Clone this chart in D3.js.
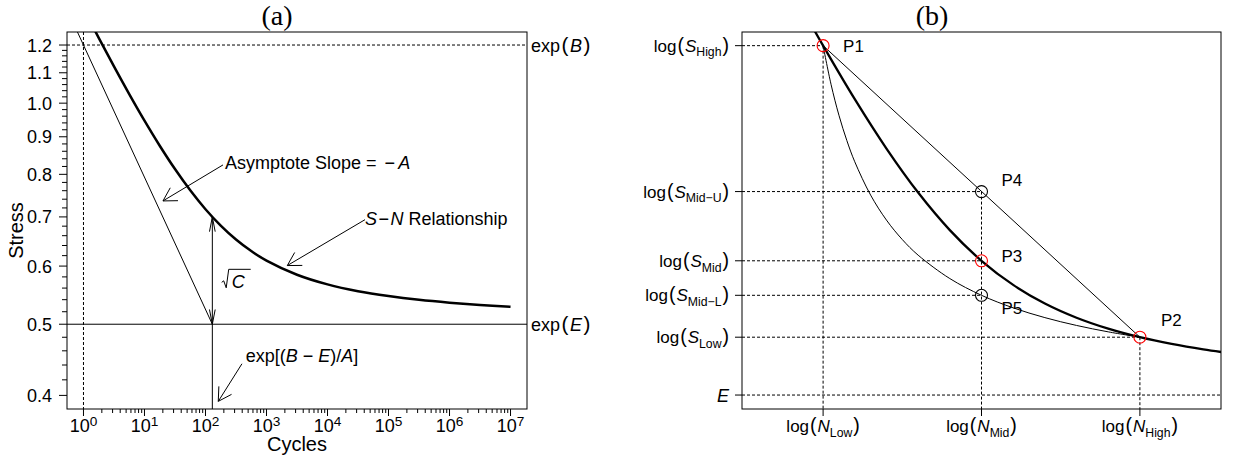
<!DOCTYPE html>
<html><head><meta charset="utf-8">
<script src="https://cdn.jsdelivr.net/npm/d3@7"></script>
<style>
body{margin:0;background:#fff}
svg{display:block}
text{font-family:"Liberation Sans",Arial,Helvetica,sans-serif;fill:#000}
</style>
</head><body>
<svg id="chart" width="1233" height="463"></svg>
<script>
// ---------------- DATA: panel (a) ----------------
const cyclesA = [1, 1.778, 3.162, 5.623, 10, 17.78, 31.62, 56.23, 100, 177.8, 316.2, 562.3, 1000, 3162, 1e4, 31623, 1e5, 316228, 1e6, 3162278, 1e7];
const stressA = [1.3454, 1.2274, 1.1222, 1.0289, 0.9467, 0.8751, 0.8133, 0.7609, 0.7171, 0.6812, 0.6521, 0.6289, 0.6104, 0.5839, 0.5665, 0.5545, 0.5461, 0.5397, 0.5349, 0.5311, 0.5280];
const asymCycles = [0.6, 129.5];
const asymStress = [1.3155, 0.5];
const expBValue = 1.2;
const expEValue = 0.5;
const nStar = 129.5;
const sStar = 0.7;
const stressTicks = [0.4, 0.5, 0.6, 0.7, 0.8, 0.9, 1.0, 1.1, 1.2];
const stressTickLabels = ["0.4", "0.5", "0.6", "0.7", "0.8", "0.9", "1.0", "1.1", "1.2"];
const cycleTickExps = [0, 1, 2, 3, 4, 5, 6, 7];

// ---------------- DATA: panel (b) ----------------
const thickLogN = [0.9, 1.0, 1.2, 1.4, 1.6, 1.8, 2.0, 2.2, 2.4, 2.6, 2.8, 3.0, 3.2, 3.4, 3.6];
const thickLogS = [3.784, 3.503, 2.966, 2.471, 2.030, 1.6536, 1.3461, 1.1042, 0.9179, 0.7754, 0.6657, 0.5799, 0.5122, 0.4575, 0.4128];
const lowerLogN = [1.0, 1.05, 1.1, 1.15, 1.2, 1.3, 1.4, 1.5, 1.6, 1.8, 2.0, 2.2, 2.4, 2.6, 2.8, 3.0];
const lowerLogS = [3.503, 3.1157, 2.8052, 2.5509, 2.3387, 2.0048, 1.7541, 1.5589, 1.4025, 1.1679, 1.0001, 0.8742, 0.7762, 0.6977, 0.6335, 0.5800];
const pointNames = ["P1", "P2", "P3", "P4", "P5"];
const pointLogN = [1, 3, 2, 2, 2];
const pointLogS = [3.503, 0.58, 1.346, 2.04, 1.0];
const pointColors = ["#ff0000", "#ff0000", "#ff0000", "#000000", "#000000"];
const nTickValues = [1, 2, 3];
const nTickSubs = ["Low", "Mid", "High"];
const sTickValues = [3.503, 2.04, 1.346, 1.0, 0.58];
const sTickSubs = ["High", "Mid\u2212U", "Mid", "Mid\u2212L", "Low"];
const eValue = 0;

// ---------------- LAYOUT ----------------
const svg = d3.select("#chart");
const PA = {l: 67, r: 527, t: 32, b: 409};
const PB = {l: 742, r: 1221, t: 32, b: 409};
const FS = 17;
const FA = 18;
const dash = "3,2";

const xA = d3.scaleLog().domain([Math.pow(10, -0.27), Math.pow(10, 7.27)]).range([PA.l, PA.r]);
const yA = d3.scaleLog().domain([0.3833, 1.25]).range([PA.b, PA.t]);
const xB = d3.scaleLinear().domain([0.488, 3.512]).range([PB.l, PB.r]);
const yB = d3.scaleLinear().domain([-0.14, 3.64]).range([PB.b, PB.t]);

const defs = svg.append("defs");
defs.append("clipPath").attr("id", "clipA").append("rect")
  .attr("x", PA.l).attr("y", PA.t).attr("width", PA.r - PA.l).attr("height", PA.b - PA.t);
defs.append("clipPath").attr("id", "clipB").append("rect")
  .attr("x", PB.l).attr("y", PB.t).attr("width", PB.r - PB.l).attr("height", PB.b - PB.t);

function rich(g, x, y, parts, opt = {}) {
  const size = opt.size || FS;
  const subScale = opt.subScale || 0.72;
  const t = g.append("text").attr("x", x).attr("y", y)
    .attr("text-anchor", opt.anchor || "start").attr("font-size", size);
  let cur = 0;
  for (const p of parts) {
    const o = typeof p === "string" ? {t: p} : p;
    const off = o.sub ? size * 0.28 : o.sup ? -size * 0.36 : 0;
    const ts = t.append("tspan").text(o.t).attr("dy", off - cur);
    cur = off;
    if (o.sub || o.sup) ts.attr("font-size", size * subScale);
    if (o.big) ts.attr("font-size", size * 1.15);
    if (o.i) ts.attr("font-style", "italic");
    if (o.dx) ts.attr("dx", o.dx);
  }
  return t;
}

function arrowHead(g, tx, ty, fx, fy, len, angDeg) {
  const th = Math.atan2(fy - ty, fx - tx);
  const a = angDeg * Math.PI / 180;
  const pts = [[tx + len * Math.cos(th + a), ty + len * Math.sin(th + a)], [tx, ty], [tx + len * Math.cos(th - a), ty + len * Math.sin(th - a)]];
  g.append("path").attr("d", d3.line()(pts)).attr("fill", "none").attr("stroke", "#000").attr("stroke-width", 1);
}
function arrow(g, x1, y1, x2, y2, len = 15, ang = 30, both = false) {
  g.append("line").attr("x1", x1).attr("y1", y1).attr("x2", x2).attr("y2", y2)
    .attr("stroke", "#000").attr("stroke-width", 1);
  arrowHead(g, x2, y2, x1, y1, len, ang);
  if (both) arrowHead(g, x1, y1, x2, y2, len, ang);
}

// ================= PANEL (a) =================
const ga = svg.append("g");
const clipA = ga.append("g").attr("clip-path", "url(#clipA)");

// reference lines
clipA.append("line").attr("x1", PA.l).attr("x2", PA.r).attr("y1", yA(expBValue)).attr("y2", yA(expBValue))
  .attr("stroke", "#000").attr("stroke-dasharray", dash);
clipA.append("line").attr("x1", xA(1)).attr("x2", xA(1)).attr("y1", PA.t).attr("y2", PA.b)
  .attr("stroke", "#000").attr("stroke-dasharray", dash);
clipA.append("line").attr("x1", PA.l).attr("x2", PA.r).attr("y1", yA(expEValue)).attr("y2", yA(expEValue))
  .attr("stroke", "#000").attr("stroke-width", 1);
clipA.append("line").attr("x1", xA(nStar)).attr("x2", xA(nStar)).attr("y1", yA(expEValue)).attr("y2", PA.b)
  .attr("stroke", "#000").attr("stroke-width", 1);

// asymptote line
const asymPts = asymCycles.map((c, i) => [xA(c), yA(asymStress[i])]);
clipA.append("path").attr("d", d3.line()(asymPts)).attr("stroke", "#000").attr("fill", "none").attr("stroke-width", 1);

// S-N curve
const snPts = cyclesA.map((c, i) => [xA(c), yA(stressA[i])]);
clipA.append("path").attr("d", d3.line().curve(d3.curveCatmullRom.alpha(0.5))(snPts))
  .attr("stroke", "#000").attr("fill", "none").attr("stroke-width", 2.5);

// sqrt(C) double arrow
arrow(ga, xA(nStar), yA(expEValue), xA(nStar), yA(sStar), 15, 11, true);

// box
ga.append("rect").attr("x", PA.l).attr("y", PA.t).attr("width", PA.r - PA.l).attr("height", PA.b - PA.t)
  .attr("fill", "none").attr("stroke", "#000").attr("stroke-width", 1);

// y axis
stressTicks.forEach((v, i) => {
  ga.append("line").attr("x1", PA.l - 8).attr("x2", PA.l).attr("y1", yA(v)).attr("y2", yA(v)).attr("stroke", "#000");
  ga.append("text").attr("x", PA.l - 15).attr("y", yA(v) + 6.5).attr("text-anchor", "end").attr("font-size", FA).text(stressTickLabels[i]);
});
d3.range(40, 121, 2).map(d => d / 100).filter(v => !stressTicks.some(t => Math.abs(t - v) < 1e-9)).forEach(v => {
  ga.append("line").attr("x1", PA.l - 5).attr("x2", PA.l).attr("y1", yA(v)).attr("y2", yA(v)).attr("stroke", "#000");
});
// x axis
cycleTickExps.forEach(e => {
  const x = xA(Math.pow(10, e));
  ga.append("line").attr("x1", x).attr("x2", x).attr("y1", PA.b).attr("y2", PA.b + 7).attr("stroke", "#000");
  rich(ga, x, PA.b + 23, ["10", {t: String(e), sup: true}], {anchor: "middle", size: FA, subScale: 0.76});
  if (e < 7) {
    for (let k = 2; k <= 9; k++) {
      const xm = xA(k * Math.pow(10, e));
      ga.append("line").attr("x1", xm).attr("x2", xm).attr("y1", PA.b).attr("y2", PA.b + 4).attr("stroke", "#000");
    }
  }
});
ga.append("text").attr("x", (PA.l + PA.r) / 2).attr("y", 451).attr("text-anchor", "middle").attr("font-size", 20).text("Cycles");
ga.append("text").attr("transform", `translate(23,${(PA.t + PA.b) / 2 + 10}) rotate(-90)`)
  .attr("text-anchor", "middle").attr("font-size", 20).text("Stress");
ga.append("text").attr("x", 277).attr("y", 25).attr("text-anchor", "middle")
  .style("font-family", "'Liberation Serif',serif").attr("font-size", 28).text("(a)");

// right labels
rich(ga, PA.r + 4, yA(expBValue) + 6.5, ["exp", {t: "(", big: true, dx: 1.5}, {t: "B", i: true, dx: 1.5}, {t: ")", big: true, dx: 1.5}], {size: FA});
rich(ga, PA.r + 4, yA(expEValue) + 6.5, ["exp", {t: "(", big: true, dx: 1.5}, {t: "E", i: true, dx: 1.5}, {t: ")", big: true, dx: 1.5}], {size: FA});

// annotations
rich(ga, xA(209), yA(0.829) + 6.5, ["Asymptote Slope = ", {t: "\u2212", dx: 3}, {t: "A", i: true, dx: 3}], {size: FA});
arrow(ga, xA(193.6), yA(0.824), xA(20.1), yA(0.736));
rich(ga, xA(41200), yA(0.696) + 6.5, [{t: "S", i: true}, {t: "\u2212", dx: 1.5}, {t: "N", i: true, dx: 1.5}, " Relationship"], {size: FA});
arrow(ga, xA(41200), yA(0.694), xA(2193), yA(0.601));
rich(ga, xA(456), yA(0.453) + 6.5, ["exp[(", {t: "B", i: true}, {t: "\u2212", dx: 5}, {t: "E", i: true, dx: 5}, ")/", {t: "A", i: true}, "]"], {size: FA});
arrow(ga, xA(396), yA(0.4417), xA(162), yA(0.3926));
// sqrt(C)
{
  const x0 = xA(184.5), yc = yA(0.572);
  ga.append("path").attr("d", d3.line()([[x0, yc + 1], [x0 + 2, yc - 0.5], [x0 + 4.5, yc + 6.5], [x0 + 7, yc - 12], [x0 + 29, yc - 12]]))
    .attr("fill", "none").attr("stroke", "#000").attr("stroke-width", 1);
  ga.append("text").attr("x", x0 + 10).attr("y", yc + 7).attr("font-size", FA).attr("font-style", "italic").text("C");
}

// ================= PANEL (b) =================
const gb = svg.append("g");
const clipB = gb.append("g").attr("clip-path", "url(#clipB)");

const idx = n => pointNames.indexOf(n);
["P1", "P4", "P3", "P5", "P2"].forEach(p => {
  const i = idx(p);
  clipB.append("line").attr("x1", PB.l).attr("x2", xB(pointLogN[i])).attr("y1", yB(pointLogS[i])).attr("y2", yB(pointLogS[i]))
    .attr("stroke", "#000").attr("stroke-dasharray", dash);
});
["P1", "P4", "P2"].forEach(p => {
  const i = idx(p);
  clipB.append("line").attr("x1", xB(pointLogN[i])).attr("x2", xB(pointLogN[i])).attr("y1", yB(pointLogS[i])).attr("y2", PB.b)
    .attr("stroke", "#000").attr("stroke-dasharray", dash);
});
clipB.append("line").attr("x1", PB.l).attr("x2", PB.r).attr("y1", yB(eValue)).attr("y2", yB(eValue))
  .attr("stroke", "#000").attr("stroke-dasharray", dash);

// straight line P1-P2
clipB.append("line").attr("x1", xB(pointLogN[0])).attr("y1", yB(pointLogS[0])).attr("x2", xB(pointLogN[1])).attr("y2", yB(pointLogS[1]))
  .attr("stroke", "#000").attr("stroke-width", 1);
// lower curve
clipB.append("path").attr("d", d3.line().curve(d3.curveCatmullRom.alpha(0.5))(lowerLogN.map((n, i) => [xB(n), yB(lowerLogS[i])])))
  .attr("fill", "none").attr("stroke", "#000").attr("stroke-width", 1);
// thick curve
clipB.append("path").attr("d", d3.line().curve(d3.curveCatmullRom.alpha(0.5))(thickLogN.map((n, i) => [xB(n), yB(thickLogS[i])])))
  .attr("fill", "none").attr("stroke", "#000").attr("stroke-width", 2.3);

// points
const labelOff = {P1: [20, 6], P2: [21, -11], P3: [20, 1], P4: [20, -6], P5: [20, 19]};
pointNames.forEach((p, i) => {
  const cx = xB(pointLogN[i]), cy = yB(pointLogS[i]);
  gb.append("circle").attr("cx", cx).attr("cy", cy).attr("r", 6).attr("fill", "none")
    .attr("stroke", pointColors[i]).attr("stroke-width", 1.1);
  gb.append("text").attr("x", cx + labelOff[p][0]).attr("y", cy + labelOff[p][1]).attr("font-size", FS).text(p);
});

// box
gb.append("rect").attr("x", PB.l).attr("y", PB.t).attr("width", PB.r - PB.l).attr("height", PB.b - PB.t)
  .attr("fill", "none").attr("stroke", "#000").attr("stroke-width", 1);

// y ticks
sTickValues.forEach((v, i) => {
  const y = yB(v);
  gb.append("line").attr("x1", PB.l - 7).attr("x2", PB.l).attr("y1", y).attr("y2", y).attr("stroke", "#000");
  rich(gb, PB.l - 13, y + 6, ["log", {t: "(", big: true, dx: 1}, {t: "S", i: true, dx: 1}, {t: sTickSubs[i], sub: true}, {t: ")", big: true, dx: 1}], {anchor: "end"});
});
gb.append("line").attr("x1", PB.l - 7).attr("x2", PB.l).attr("y1", yB(eValue)).attr("y2", yB(eValue)).attr("stroke", "#000");
gb.append("text").attr("x", PB.l - 13).attr("y", yB(eValue) + 6.5).attr("text-anchor", "end").attr("font-size", FA)
  .attr("font-style", "italic").text("E");
// x ticks
nTickValues.forEach((v, i) => {
  const x = xB(v);
  gb.append("line").attr("x1", x).attr("x2", x).attr("y1", PB.b).attr("y2", PB.b + 7).attr("stroke", "#000");
  rich(gb, x, PB.b + 23, ["log", {t: "(", big: true, dx: 1}, {t: "N", i: true, dx: 1}, {t: nTickSubs[i], sub: true}, {t: ")", big: true, dx: 1}], {anchor: "middle"});
});
gb.append("text").attr("x", 932).attr("y", 25).attr("text-anchor", "middle")
  .style("font-family", "'Liberation Serif',serif").attr("font-size", 28).text("(b)");
</script>
</body></html>
